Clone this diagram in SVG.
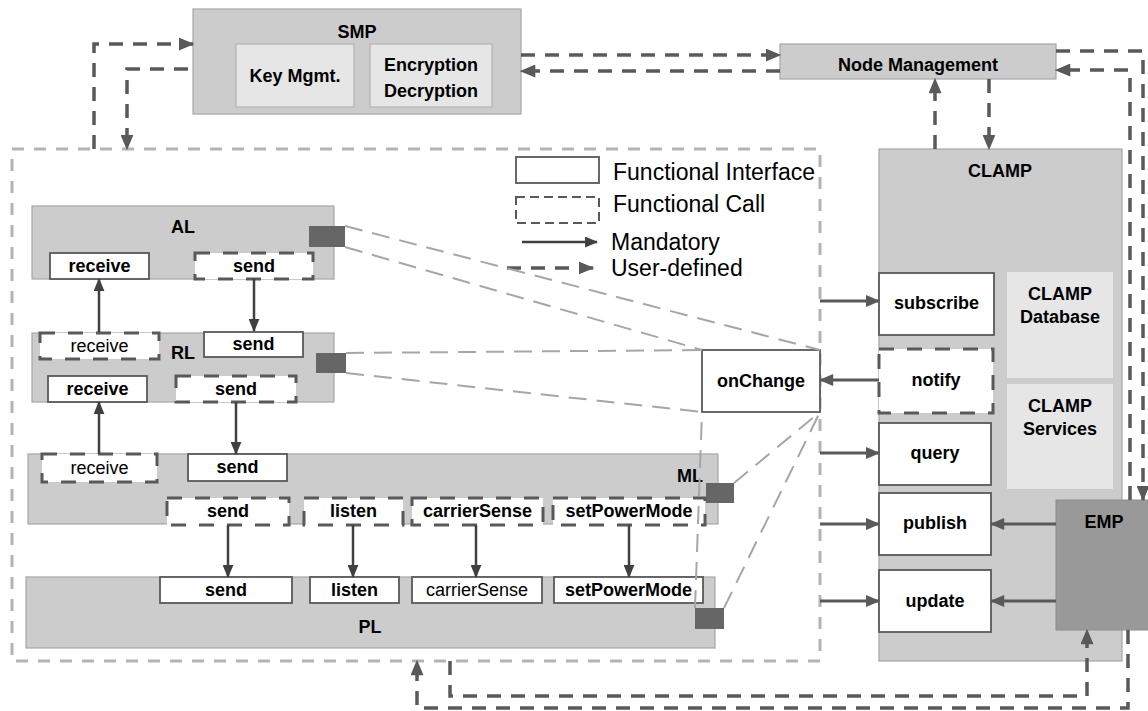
<svg xmlns="http://www.w3.org/2000/svg" width="1148" height="711" viewBox="0 0 1148 711">
<defs>
<marker id="am" viewBox="0 0 12 10" refX="11" refY="5" markerWidth="13" markerHeight="11" markerUnits="userSpaceOnUse" orient="auto"><path d="M0,0 L12,5 L0,10 z" fill="#404040"/></marker>
<marker id="ac" viewBox="0 0 12 10" refX="11" refY="5" markerWidth="15" markerHeight="12" markerUnits="userSpaceOnUse" orient="auto"><path d="M0,0 L12,5 L0,10 z" fill="#595959"/></marker>
<marker id="au" viewBox="0 0 12 10" refX="11" refY="5" markerWidth="16" markerHeight="13" markerUnits="userSpaceOnUse" orient="auto"><path d="M0,0 L12,5 L0,10 z" fill="#595959"/></marker>
</defs>
<style>
text{font-family:"Liberation Sans",Arial,Helvetica,sans-serif;fill:#000;text-anchor:middle}
.b{font-weight:bold;font-size:18px}
.r{font-size:18px}
.lgt{font-size:23px;text-anchor:start}
.layer{fill:#cccccc;stroke:#a6a6a6;stroke-width:1.2}
.inner{fill:#e6e6e6;stroke:#b3b3b3;stroke-width:1.2}
.fi{fill:#fff;stroke:#595959;stroke-width:1.8}
.fc{fill:#fff;stroke:#595959;stroke-width:3;stroke-dasharray:15 13}
.sq{fill:#666}
.mand{stroke:#404040;stroke-width:2.5;fill:none;marker-end:url(#am)}
.cl{stroke:#595959;stroke-width:3;fill:none;marker-end:url(#ac)}
.ud{stroke:#595959;stroke-width:3.5;fill:none;stroke-dasharray:14 10;marker-end:url(#au)}
.lg{stroke:#a6a6a6;stroke-width:2;stroke-dasharray:18 10;fill:none}
.cont{fill:none;stroke:#b3b3b3;stroke-width:3;stroke-dasharray:12 10}
</style>

<g id="stack">
<rect class="cont" x="12" y="149" width="808" height="512"/>
</g>

<g id="legend">
<rect class="fi" x="516" y="157" width="83" height="26"/>
<text class="lgt" x="613" y="180">Functional Interface</text>
<rect x="516" y="197" width="83" height="26" fill="#fff" stroke="#595959" stroke-width="2" stroke-dasharray="9 5"/>
<text class="lgt" x="613" y="212">Functional Call</text>
<path class="mand" d="M522,242 H597"/>
<text class="lgt" x="611" y="250">Mandatory</text>
<path class="ud" d="M507,268 H593"/>
<text class="lgt" x="611" y="276">User-defined</text>
</g>

<g id="SMP">
<rect class="layer" x="193" y="9" width="328" height="105"/>
<text class="b" x="357" y="38">SMP</text>
<rect class="inner" x="236" y="44" width="118" height="63"/>
<text class="b" x="295" y="82">Key Mgmt.</text>
<rect class="inner" x="370" y="44" width="122" height="63"/>
<text class="b" x="431" y="71">Encryption</text>
<text class="b" x="431" y="97">Decryption</text>
</g>

<g id="NodeManagement">
<rect class="layer" x="780" y="44" width="276" height="35"/>
<text class="b" x="918" y="71">Node Management</text>
</g>

<g id="AL">
<rect class="layer" x="32" y="206" width="302" height="73"/>
<text class="b" x="183" y="233">AL</text>
<rect class="sq" x="309" y="226" width="36" height="21"/>
<rect class="fi" x="50" y="253" width="99" height="26"/>
<text class="b" x="99.5" y="272">receive</text>
<rect class="fc" x="195" y="253" width="118" height="26"/>
<text class="b" x="254" y="272">send</text>
</g>

<g id="RL">
<rect class="layer" x="32" y="333" width="302" height="69"/>
<text class="b" x="183" y="359">RL</text>
<rect class="sq" x="316" y="353" width="30" height="20"/>
<rect class="fc" x="40" y="333" width="119" height="26"/>
<text class="r" x="99.5" y="352">receive</text>
<rect class="fi" x="204" y="332" width="99" height="25"/>
<text class="b" x="253.5" y="350">send</text>
<rect class="fi" x="48" y="376" width="99" height="26"/>
<text class="b" x="97.5" y="395">receive</text>
<rect class="fc" x="176" y="376" width="120" height="26"/>
<text class="b" x="236" y="395">send</text>
</g>

<g id="ML">
<rect class="layer" x="28" y="454" width="690" height="70"/>
<text class="b" x="703" y="482" style="text-anchor:end">ML</text>
<rect class="sq" x="706" y="483" width="28" height="20"/>
<rect class="fc" x="42" y="454" width="115" height="28"/>
<text class="r" x="99.5" y="474">receive</text>
<rect class="fi" x="188" y="454" width="99" height="27"/>
<text class="b" x="237.5" y="473">send</text>
<rect class="fc" x="167" y="498" width="122" height="27"/>
<text class="b" x="228" y="517">send</text>
<rect class="fc" x="304" y="498" width="99" height="27"/>
<text class="b" x="353.5" y="517">listen</text>
<rect class="fc" x="412" y="498" width="131" height="27"/>
<text class="b" x="477.5" y="517">carrierSense</text>
<rect class="fc" x="553" y="498" width="152" height="27"/>
<text class="b" x="629" y="517">setPowerMode</text>
</g>

<g id="PL">
<rect class="layer" x="26" y="577" width="689" height="71"/>
<text class="b" x="370" y="633">PL</text>
<rect class="sq" x="695" y="608" width="29" height="21"/>
<rect class="fi" x="160" y="577" width="132" height="26"/>
<text class="b" x="226" y="596">send</text>
<rect class="fi" x="310" y="577" width="89" height="26"/>
<text class="b" x="354.5" y="596">listen</text>
<rect class="fi" x="412" y="577" width="130" height="26"/>
<text class="r" x="477" y="596">carrierSense</text>
<rect class="fi" x="554" y="577" width="149" height="26"/>
<text class="b" x="628.5" y="596">setPowerMode</text>
</g>

<g id="onChange">
<rect class="fi" x="702" y="350" width="118" height="62"/>
<text class="b" x="761" y="387">onChange</text>
</g>

<g id="CLAMP">
<rect class="layer" x="879" y="149" width="243" height="512"/>
<text class="b" x="1000" y="177">CLAMP</text>
<rect class="inner" x="1007" y="272" width="106" height="106" style="stroke:none"/>
<text class="b" x="1060" y="300">CLAMP</text>
<text class="b" x="1060" y="323">Database</text>
<rect class="inner" x="1007" y="384" width="106" height="105" style="stroke:none"/>
<text class="b" x="1060" y="412">CLAMP</text>
<text class="b" x="1060" y="435">Services</text>
<rect class="fi" x="879" y="273" width="115" height="62"/>
<text class="b" x="936.5" y="309">subscribe</text>
<rect class="fc" x="879" y="349" width="114" height="64"/>
<text class="b" x="936" y="386">notify</text>
<rect class="fi" x="879" y="423" width="112" height="62"/>
<text class="b" x="935" y="459">query</text>
<rect class="fi" x="879" y="493" width="112" height="62"/>
<text class="b" x="935" y="529">publish</text>
<rect class="fi" x="879" y="570" width="112" height="62"/>
<text class="b" x="935" y="607">update</text>
</g>

<g id="EMP">
<rect x="1056" y="500" width="94" height="130" fill="#999999" stroke="#8c8c8c" stroke-width="1"/>
<text class="b" x="1104" y="528">EMP</text>
</g>

<g id="connectors">
<path class="lg" d="M345,226 L820,350"/>
<path class="lg" d="M345,247 L702,350"/>
<path class="lg" d="M346,353 L702,350"/>
<path class="lg" d="M346,373 L702,412"/>
<path class="lg" d="M734,483 L820,412"/>
<path class="lg" d="M695,608 L702,412"/>
<path class="lg" d="M724,608 L820,412"/>

<path class="mand" d="M99,332 V279"/>
<path class="mand" d="M254,279 V331"/>
<path class="mand" d="M99,454 V402"/>
<path class="mand" d="M236,402 V454"/>
<path class="mand" d="M228,525 V577"/>
<path class="mand" d="M353,525 V577"/>
<path class="mand" d="M476,525 V577"/>
<path class="mand" d="M629,525 V577"/>

<path class="cl" d="M820,301 H879"/>
<path class="cl" d="M879,380 H820"/>
<path class="cl" d="M820,453 H879"/>
<path class="cl" d="M820,524 H879"/>
<path class="cl" d="M820,601 H879"/>
<path class="cl" d="M1056,524 H991"/>
<path class="cl" d="M1056,601 H991"/>

<path class="ud" d="M94,149 V44 H193"/>
<path class="ud" d="M188,69 H127 V149"/>
<path class="ud" d="M521,55 H780"/>
<path class="ud" d="M780,71 H521"/>
<path class="ud" d="M935,149 V79"/>
<path class="ud" d="M989,79 V149"/>
<path class="ud" d="M1056,51 H1143 V500"/>
<path class="ud" d="M1130,500 V70 H1056"/>
<path class="ud" d="M1128,630 V708 H417 V661"/>
<path class="ud" d="M450,661 V696 H1087 V630"/>
</g>
</svg>
